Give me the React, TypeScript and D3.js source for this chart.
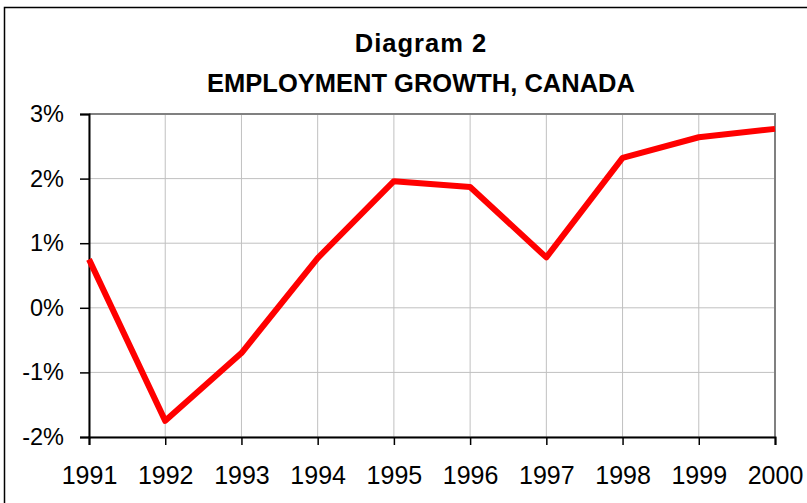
import { useEffect, useRef } from 'react';
import * as d3 from 'd3';

const years = ['1991', '1992', '1993', '1994', '1995', '1996', '1997', '1998', '1999', '2000'];
const growth = [0.75, -1.75, -0.7, 0.77, 1.96, 1.87, 0.78, 2.32, 2.64, 2.77];
const yTicks = [-2, -1, 0, 1, 2, 3];

const W = 807;
const H = 503;

const App: React.FC = () => {
    const svgRef = useRef<SVGSVGElement>(null);

    useEffect(() => {
        if (!svgRef.current) return;
        const svg = d3.select(svgRef.current);
        svg.selectAll('*').remove();

        const left = 89, right = 775, top = 114, bottom = 437;
        const font = 'Liberation Sans, Arial, sans-serif';

        svg.append('rect')
            .attr('x', 0).attr('y', 0).attr('width', W).attr('height', H)
            .attr('fill', '#fff');

        // outer chart border (runs off the right/bottom edge)
        svg.append('rect')
            .attr('x', 4.5).attr('y', 7.5).attr('width', W + 10).attr('height', H + 10)
            .attr('fill', 'none').attr('stroke', '#000').attr('stroke-width', 1.5);

        const x = d3.scalePoint().domain(years).range([left, right]);
        const y = d3.scaleLinear().domain([-2, 3]).range([bottom, top]);

        const g = svg.append('g');

        // gridlines
        g.selectAll('.hgrid').data(yTicks).join('line')
            .attr('x1', left).attr('x2', right)
            .attr('y1', d => y(d)).attr('y2', d => y(d))
            .attr('stroke', '#c0c0c0').attr('stroke-width', 1);
        g.selectAll('.vgrid').data(years).join('line')
            .attr('x1', d => x(d)!).attr('x2', d => x(d)!)
            .attr('y1', top).attr('y2', bottom)
            .attr('stroke', '#c0c0c0').attr('stroke-width', 1);

        // top/right frame in gray
        g.append('path')
            .attr('d', `M${left},${top}H${right}V${bottom}`)
            .attr('fill', 'none').attr('stroke', '#808080').attr('stroke-width', 2);

        const yAxis = g.append('g')
            .attr('transform', `translate(${left},0)`)
            .call(d3.axisLeft(y).tickValues(yTicks).tickSize(9).tickPadding(16).tickFormat(d => `${d}%`));
        yAxis.select('.domain').attr('stroke', '#000').attr('stroke-width', 2);
        yAxis.selectAll('line').attr('stroke', '#000').attr('stroke-width', 1.5);
        yAxis.selectAll('text').attr('font-family', font).attr('font-size', 23.5).attr('fill', '#000');

        const xAxis = g.append('g')
            .attr('transform', `translate(0,${bottom})`)
            .call(d3.axisBottom(x).tickSize(8).tickPadding(21));
        xAxis.select('.domain').attr('stroke', '#000').attr('stroke-width', 2);
        xAxis.selectAll('line').attr('stroke', '#000').attr('stroke-width', 1.5);
        xAxis.selectAll('text').attr('font-family', font).attr('font-size', 25).attr('fill', '#000');

        const line = d3.line<number>()
            .x((_, i) => x(years[i])!)
            .y(d => y(d));

        g.append('path')
            .datum(growth)
            .attr('d', line)
            .attr('fill', 'none')
            .attr('stroke', '#ff0000')
            .attr('stroke-width', 6)
            .attr('stroke-linejoin', 'round');

        const title = svg.append('g')
            .attr('font-family', font).attr('font-weight', 'bold').attr('font-size', 25.5)
            .attr('text-anchor', 'middle').attr('fill', '#000');
        title.append('text').attr('x', 421).attr('y', 52).attr('letter-spacing', 1).text('Diagram 2');
        title.append('text').attr('x', 421).attr('y', 92).text('EMPLOYMENT GROWTH, CANADA');
    }, []);

    return (
        <svg ref={svgRef} width={W} height={H}
            style={{ position: 'absolute', left: 0, top: 0, display: 'block' }} />
    );
};

export default App;
